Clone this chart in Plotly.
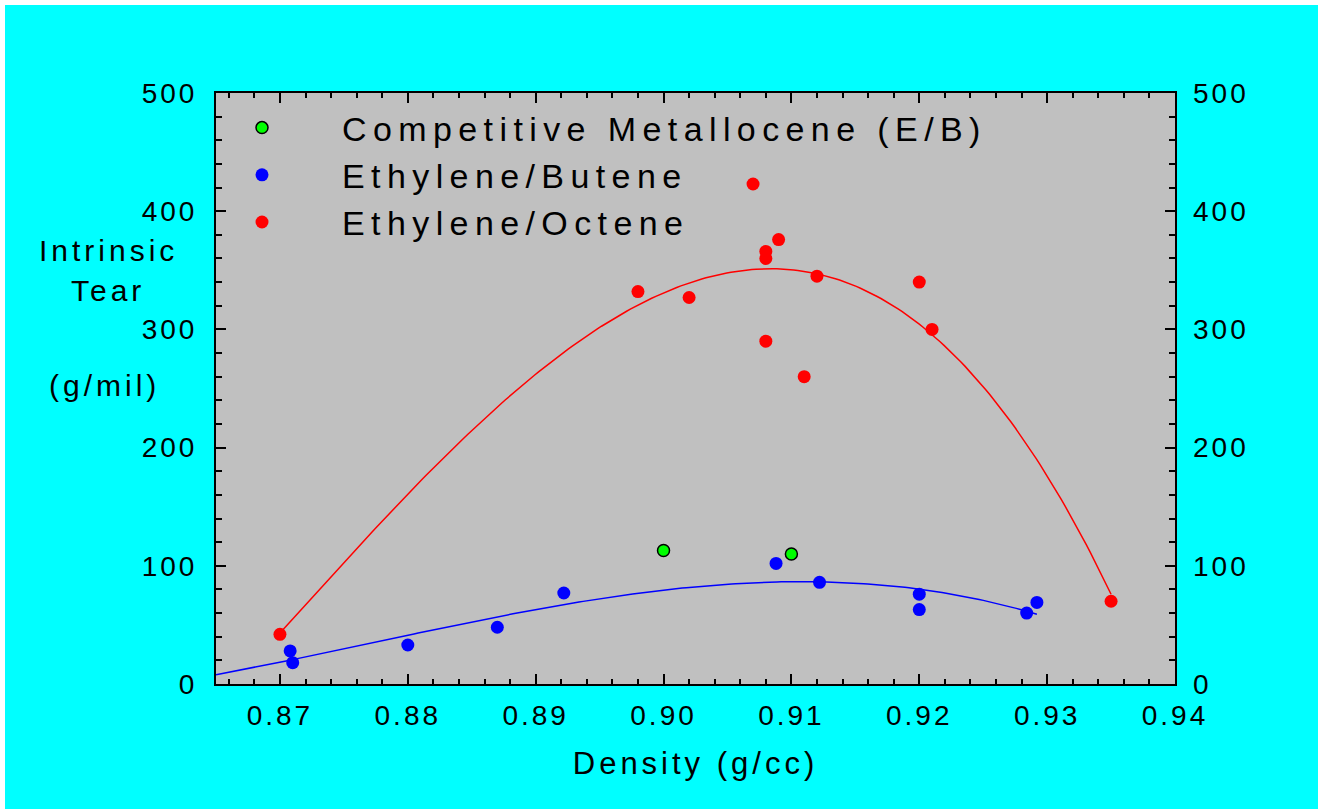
import numpy as np
import plotly.graph_objects as go

# ---------------- data ----------------
comp_x = [0.900, 0.910]
comp_y = [113, 110]

eb_x = [0.8708, 0.8710, 0.880, 0.887, 0.8922, 0.9088, 0.9122, 0.920, 0.920, 0.9284, 0.9292]
eb_y = [28, 18, 33, 48, 77, 102, 86, 76, 63, 60, 69]

eo_x = [0.870, 0.898, 0.902, 0.907, 0.908, 0.908, 0.908, 0.909, 0.911, 0.912, 0.920, 0.921, 0.935]
eo_y = [42, 332, 327, 423, 366, 360, 290, 376, 260, 345, 340, 300, 70]

x_tickvals = [0.87, 0.88, 0.89, 0.90, 0.91, 0.92, 0.93, 0.94]
x_ticktext = ["0.87", "0.88", "0.89", "0.90", "0.91", "0.92", "0.93", "0.94"]
y_tickvals = [0, 100, 200, 300, 400, 500]
y_ticktext = ["0", "100", "200", "300", "400", "500"]

X_RANGE = [0.865, 0.94]
Y_RANGE = [0, 500]

# ---------------- trend curves (cubic least-squares fits of the data) ----------------
eo_fit = np.poly1d(np.polyfit(eo_x, eo_y, 3))
eb_fit = np.poly1d(np.polyfit(eb_x, eb_y, 3))
eo_cx = np.linspace(min(eo_x), max(eo_x), 200)
eb_cx = np.linspace(X_RANGE[0], max(eb_x), 200)

FONT = "Liberation Sans, Arial, sans-serif"
W, H = 1318, 809
ML, MR, MT, MB = 216, 143, 93, 125
PW, PH = W - ML - MR, H - MT - MB


def px2x(px):
    return (px - ML) / PW


def py2y(py):
    return (H - MB - py) / PH


fig = go.Figure()

fig.add_trace(go.Scatter(x=eo_cx, y=eo_fit(eo_cx), mode="lines",
                         line=dict(color="#FF0000", width=1.5),
                         showlegend=False, hoverinfo="skip"))
fig.add_trace(go.Scatter(x=eb_cx, y=eb_fit(eb_cx), mode="lines",
                         line=dict(color="#0000FF", width=1.5),
                         showlegend=False, hoverinfo="skip"))

fig.add_trace(go.Scatter(x=comp_x, y=comp_y, mode="markers",
                         name="Competitive Metallocene (E/B)",
                         marker=dict(color="#00FF00", size=12,
                                     line=dict(color="black", width=1.5))))
fig.add_trace(go.Scatter(x=eb_x, y=eb_y, mode="markers",
                         name="Ethylene/Butene",
                         marker=dict(color="#0000FF", size=13, line=dict(width=0))))
fig.add_trace(go.Scatter(x=eo_x, y=eo_y, mode="markers",
                         name="Ethylene/Octene",
                         marker=dict(color="#FF0000", size=13, line=dict(width=0))))

# empty trace so the right-hand axis is drawn
fig.add_trace(go.Scatter(x=[None], y=[None], yaxis="y2", showlegend=False,
                         hoverinfo="skip"))

tickfont = dict(family=FONT, size=28, color="black")

fig.update_layout(
    width=W, height=H,
    margin=dict(l=ML, r=MR, t=MT, b=MB, pad=0),
    paper_bgcolor="#00FFFF",
    plot_bgcolor="#C0C0C0",
    font=dict(family=FONT, color="black"),
    showlegend=True,
    legend=dict(x=px2x(182), y=py2y(99), xanchor="left", yanchor="top",
                bgcolor="rgba(0,0,0,0)", borderwidth=0,
                font=dict(family=FONT, size=34, color="black"),
                itemwidth=150, tracegroupgap=0),
    xaxis=dict(range=X_RANGE, tickmode="array", tickvals=x_tickvals,
               ticktext=x_ticktext, ticks="inside", ticklen=10, tickwidth=2,
               tickcolor="black", showline=True, linecolor="black", linewidth=2,
               mirror="ticks", showgrid=False, zeroline=False,
               tickfont=tickfont, ticklabelstandoff=5,
               minor=dict(dtick=0.002, tick0=0.86, ticks="inside", ticklen=5,
                          tickwidth=1.5, tickcolor="black", showgrid=False),
               title=dict(text="Density (g/cc)",
                          font=dict(family=FONT, size=31, color="black"),
                          standoff=23)),
    yaxis=dict(range=Y_RANGE, tickmode="array", tickvals=y_tickvals,
               ticktext=y_ticktext, ticks="inside", ticklen=10, tickwidth=2,
               tickcolor="black", showline=True, linecolor="black", linewidth=2,
               mirror=True, showgrid=False, zeroline=False,
               tickfont=tickfont, ticklabelstandoff=11,
               minor=dict(dtick=20, ticks="inside", ticklen=6, tickwidth=1.5,
                          tickcolor="black", showgrid=False)),
    yaxis2=dict(range=Y_RANGE, overlaying="y", side="right", tickmode="array",
                tickvals=y_tickvals, ticktext=y_ticktext, ticks="inside",
                ticklen=10, tickwidth=2, tickcolor="black", showline=False,
                showgrid=False, zeroline=False, tickfont=tickfont,
                ticklabelstandoff=17,
                minor=dict(dtick=20, ticks="inside", ticklen=6, tickwidth=1.5,
                           tickcolor="black", showgrid=False)),
    annotations=[
        dict(text="Intrinsic", x=px2x(108), y=py2y(251), xref="paper", yref="paper",
             showarrow=False, xanchor="center", yanchor="middle",
             font=dict(family=FONT, size=30, color="black")),
        dict(text="Tear", x=px2x(108), y=py2y(290), xref="paper", yref="paper",
             showarrow=False, xanchor="center", yanchor="middle",
             font=dict(family=FONT, size=30, color="black")),
        dict(text="(g/mil)", x=px2x(104), y=py2y(385), xref="paper", yref="paper",
             showarrow=False, xanchor="center", yanchor="middle",
             font=dict(family=FONT, size=30, color="black")),
    ],
    shapes=[
        dict(type="rect", xref="paper", yref="paper", x0=px2x(0), x1=px2x(5),
             y0=py2y(H), y1=py2y(0), fillcolor="white", line=dict(width=0)),
        dict(type="rect", xref="paper", yref="paper", x0=px2x(0), x1=px2x(W),
             y0=py2y(5), y1=py2y(0), fillcolor="white", line=dict(width=0)),
    ],
)

post = """
var gd = document.getElementById('{plot_id}');
function ls(sel, v){ gd.querySelectorAll(sel).forEach(function(t){ t.style.letterSpacing = v; }); }
ls('.xtick text, .ytick text, .y2tick text', '3px');
ls('.g-xtitle text', '4px');
ls('.annotation-text', '4px');
ls('.legendtext', '6.4px');
gd.querySelectorAll('.legend [clip-path]').forEach(function(e){ e.removeAttribute('clip-path'); });
"""

fig.write_html("out.html", post_script=post)
